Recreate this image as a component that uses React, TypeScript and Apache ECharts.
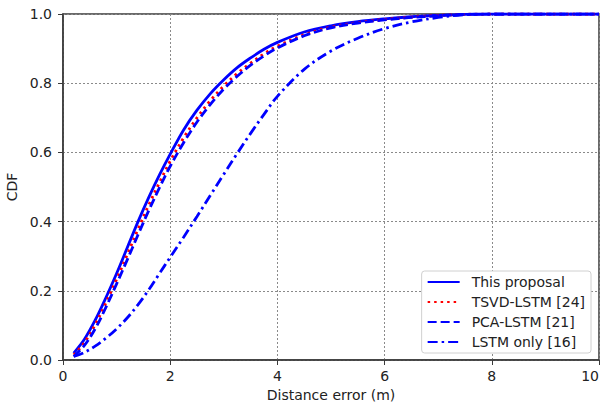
import React, { useEffect, useRef } from "react";
import * as echarts from "echarts";

const distance = [0.2, 0.4, 0.6, 0.8, 1.0, 1.2, 1.4, 1.6, 1.8, 2.0, 2.25, 2.5, 2.75, 3.0, 3.25, 3.5, 3.75, 4.0, 4.5, 5.0, 5.5, 6.0, 6.5, 7.0, 7.5, 8.0, 9.0, 10.0];
const thisProposal = [0.02, 0.06, 0.115, 0.18, 0.25, 0.325, 0.4, 0.47, 0.535, 0.595, 0.665, 0.722, 0.77, 0.81, 0.845, 0.873, 0.898, 0.918, 0.948, 0.966, 0.978, 0.986, 0.992, 0.996, 0.999, 1.0, 1.0, 1.0];
const tsvdLstm = [0.015, 0.05, 0.102, 0.165, 0.233, 0.305, 0.378, 0.448, 0.513, 0.575, 0.642, 0.7, 0.75, 0.792, 0.828, 0.858, 0.885, 0.907, 0.94, 0.962, 0.975, 0.984, 0.991, 0.996, 0.999, 1.0, 1.0, 1.0];
const pcaLstm = [0.01, 0.042, 0.09, 0.152, 0.22, 0.29, 0.362, 0.432, 0.498, 0.56, 0.628, 0.688, 0.739, 0.783, 0.82, 0.852, 0.879, 0.902, 0.937, 0.96, 0.974, 0.983, 0.99, 0.995, 0.999, 1.0, 1.0, 1.0];
const lstmOnly = [0.01, 0.022, 0.04, 0.063, 0.09, 0.122, 0.16, 0.203, 0.25, 0.297, 0.355, 0.415, 0.476, 0.537, 0.597, 0.655, 0.71, 0.762, 0.84, 0.893, 0.93, 0.958, 0.977, 0.99, 0.998, 1.0, 1.0, 1.0];
const seriesNames = ["This proposal", "TSVD-LSTM [24]", "PCA-LSTM [21]", "LSTM only [16]"];

const pairs = (ys: number[]) => distance.map((x, i) => [x, ys[i]]);

export default function App() {
  const ref = useRef<HTMLDivElement>(null);
  useEffect(() => {
    if (!ref.current) return;
    const chart = echarts.init(ref.current, null, { renderer: "svg" });
    const font = "DejaVu Sans";
    const fs = 14;
    const lineBase = { type: "line" as const, symbol: "none", showSymbol: false, smooth: 0.35 };
    chart.setOption({
      animation: false,
      backgroundColor: "#ffffff",
      textStyle: { fontFamily: font },
      grid: { left: 63, top: 14, right: 7, bottom: 43, show: true, borderColor: "#3a3a3a", borderWidth: 1.5, backgroundColor: "transparent", containLabel: false, outerBoundsMode: "none" },
      xAxis: {
        type: "value", min: 0, max: 10, interval: 2,
        name: "Distance error (m)", nameLocation: "middle", nameGap: 26,
        nameTextStyle: { fontFamily: font, fontSize: fs, color: "#222" },
        axisLine: { show: true, lineStyle: { color: "#3a3a3a", width: 1.5 } },
        axisTick: { show: true, length: 5, lineStyle: { color: "#3a3a3a" } },
        axisLabel: { fontFamily: font, fontSize: fs, color: "#222", margin: 9, alignMaxLabel: "right" },
        splitLine: { show: true, lineStyle: { color: "#8a8a8a", type: [2, 2], width: 1 } },
      },
      yAxis: {
        type: "value", min: 0, max: 1, interval: 0.2,
        name: "CDF", nameLocation: "middle", nameGap: 38, nameRotate: 90,
        nameTextStyle: { fontFamily: font, fontSize: fs, color: "#222" },
        axisLine: { show: true, lineStyle: { color: "#3a3a3a", width: 1.5 } },
        axisTick: { show: true, length: 5, lineStyle: { color: "#3a3a3a" } },
        axisLabel: { fontFamily: font, fontSize: fs, color: "#222", margin: 11, formatter: (v: number) => v.toFixed(1) },
        splitLine: { show: true, lineStyle: { color: "#8a8a8a", type: [2, 2], width: 1 } },
      },
      legend: {
        orient: "vertical", right: 15, bottom: 50,
        backgroundColor: "#ffffff", borderColor: "#d0d0d0", borderWidth: 1, borderRadius: 3,
        padding: [4, 6, 4, 5], itemGap: 6, itemWidth: 32, itemHeight: 14,
        itemStyle: { opacity: 0 },
        textStyle: { fontFamily: font, fontSize: fs, color: "#222", padding: [0, 0, 0, 7] },
        data: seriesNames,
      },
      series: [
        { ...lineBase, name: seriesNames[0], data: pairs(thisProposal), lineStyle: { color: "#0000ff", width: 2.8 }, itemStyle: { color: "#0000ff" } },
        { ...lineBase, name: seriesNames[1], data: pairs(tsvdLstm), lineStyle: { color: "#ff0000", width: 2.8, type: [2.5, 4] }, itemStyle: { color: "#ff0000" } },
        { ...lineBase, name: seriesNames[2], data: pairs(pcaLstm), lineStyle: { color: "#0000ff", width: 2.8, type: [9, 4] }, itemStyle: { color: "#0000ff" } },
        { ...lineBase, name: seriesNames[3], data: pairs(lstmOnly), lineStyle: { color: "#0000ff", width: 2.8, type: [10, 4, 2.5, 4] }, itemStyle: { color: "#0000ff" } },
      ],
    });
    return () => chart.dispose();
  }, []);
  return <div ref={ref} style={{ width: 606, height: 403, position: "absolute", left: 0, top: 0 }} />;
}
